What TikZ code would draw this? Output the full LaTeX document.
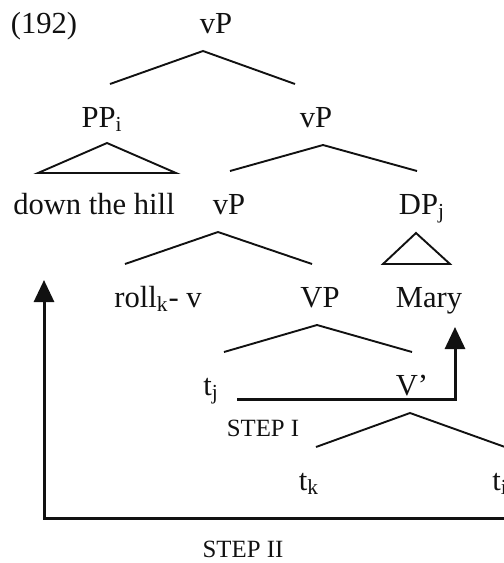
\documentclass[tikz,border=0pt]{standalone}
\usepackage{fontspec}
\setmainfont{Liberation Serif}
\usepackage{tikz}
\usetikzlibrary{arrows.meta,calc}
\definecolor{cInk}{HTML}{111111}
\tikzset{
  lbl/.style={font=\fontsize{15.3}{18}\selectfont,text=cInk,inner sep=0pt,anchor=base},
  slbl/.style={font=\fontsize{12.4}{15}\selectfont,text=cInk,inner sep=0pt,anchor=base},
  br/.style={line width=0.95pt,color=cInk},
  mv/.style={-{Triangle[width=10pt,length=11pt]},line width=1.5pt,color=cInk},
}

\begin{document}
\begin{tikzpicture}[x=0.5pt,y=-0.5pt]
    \useasboundingbox (0,0) rectangle (504,563);
    \clip (0,0) rectangle (504,563);
    % tree labels
    \node[lbl] (ex) at (44,33) {(192)};
    \node[lbl] (top) at (216,33) {vP};
    \node[lbl] (pp) at (102,127) {PP\textsubscript{i}};
    \node[lbl] (vpr) at (316,127) {vP};
    \node[lbl] (hill) at (94,214) {down the hill};
    \node[lbl] (vpl) at (229,214) {vP};
    \node[lbl] (dp) at (422,214) {DP\textsubscript{j}};
    \node[lbl] (roll) at (158,307) {roll\textsubscript{k}- v};
    \node[lbl] (vpc) at (320,307) {VP};
    \node[lbl] (mary) at (429,307) {Mary};
    \node[lbl] (tj) at (211,395) {t\textsubscript{j}};
    \node[lbl] (vbar) at (412,395) {V’};
    \node[lbl] (tk) at (309,490) {t\textsubscript{k}};
    \node[lbl] (ti) at (500,490) {t\textsubscript{i}};
    % branches
    \foreach \p/\a/\l/\lx/\r/\rx in {top/-13/pp/8/vpr/-21, vpr/7/vpl/1/dp/-5, vpl/-11/roll/-33/vpc/-8, vpc/-3/tj/13/vbar/0, vbar/-2/tk/7/ti/5}
      \draw[br] ($(\l.base)+(\lx,-43)$) -- ($(\p.base)+(\a,18)$) -- ($(\r.base)+(\rx,-43)$);
    % triangles
    \draw[br] ($(pp.base)+(5,16)$) -- ($(hill.base)+(-56,-41)$) -- ($(hill.base)+(82,-41)$) -- cycle;
    \draw[br] ($(dp.base)+(-6,19)$) -- ($(mary.base)+(-46,-43)$) -- ($(mary.base)+(21,-43)$) -- cycle;
    % movement
    \draw[mv] ($(tj.base)+(26,4)$) -| ($(mary.base)+(26,20)$);
    \node[slbl] (s1) at (263,436) {STEP I};
    \draw[mv] ($(ti.base)+(20,10)$) -- ($(ti.base)+(20,28)$) -| ($(hill.base)+(-50,66)$);
    \node[slbl] (s2) at (243,557) {STEP II};
\end{tikzpicture}
\end{document}
